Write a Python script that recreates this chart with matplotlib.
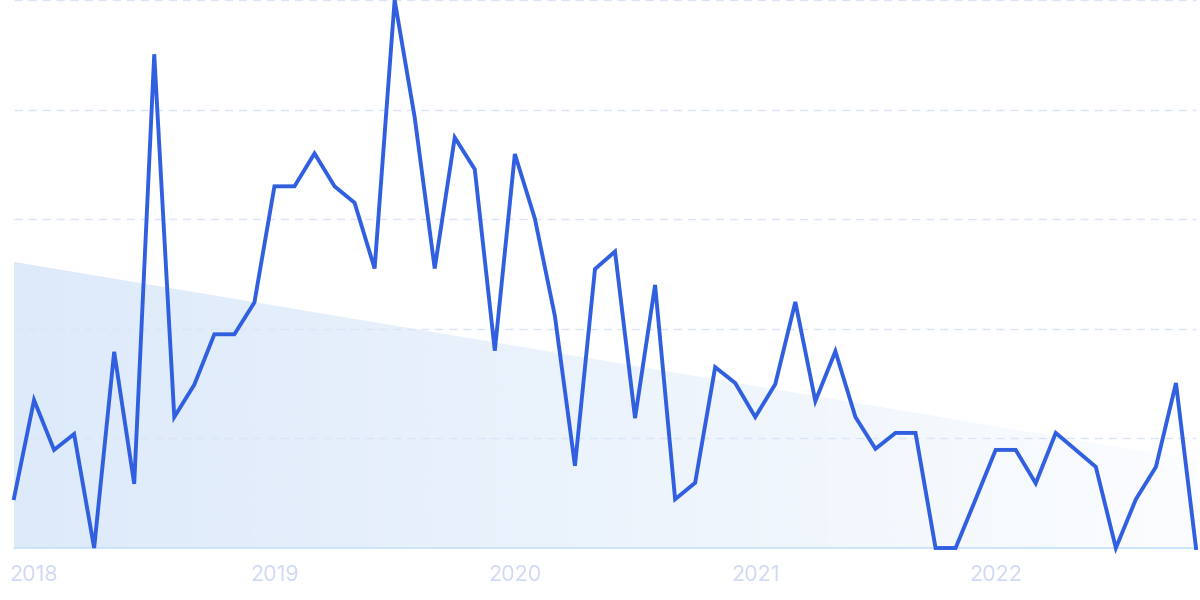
import numpy as np
import matplotlib
matplotlib.use("Agg")
import matplotlib.pyplot as plt
from matplotlib.patches import Polygon

# ---- data ----
values = [9.1, 27.0, 17.9, 20.8, 0.0, 35.8, 11.7, 90.1, 23.9, 29.8,
          39.0, 39.0, 44.8, 66.0, 66.0, 72.0, 66.0, 63.0, 51.0, 100.0,
          78.6, 51.0, 74.9, 69.1, 36.0, 71.9, 60.1, 42.3, 15.0, 50.9,
          54.1, 23.7, 48.0, 8.9, 11.9, 33.0, 30.1, 23.9, 29.9, 44.9,
          26.8, 35.9, 23.9, 18.1, 21.0, 21.0, 0.0, 0.0, 8.9, 17.9,
          17.9, 11.8, 21.0, 17.9, 14.8, 0.0, 8.9, 14.8, 30.1, 0.0]
trend_start = 52.2
trend_end = 16.1
tick_labels = ["2018", "2019", "2020", "2021", "2022"]
tick_index = [1, 13, 25, 37, 49]
grid_values = [20, 40, 60, 80, 100]

plt.rcParams['font.family'] = ['Inter', 'DejaVu Sans']

fig = plt.figure(figsize=(12, 6), dpi=100)
ax = fig.add_axes([14/1200, 52/600, 1182/1200, 548/600])
x = np.arange(len(values))
n = len(values) - 1
ax.set_xlim(0, n)
ax.set_ylim(0, 100)

# gradient trend area
poly = Polygon([(0, 0), (0, trend_start), (n, trend_end), (n, 0)],
               closed=True, facecolor='none', edgecolor='none')
ax.add_patch(poly)
W = 400
grad = np.zeros((2, W, 4))
t = np.linspace(0, 1, W)
base = np.array([219, 233, 250]) / 255
grad[:, :, 0] = base[0]
grad[:, :, 1] = base[1]
grad[:, :, 2] = base[2]
grad[:, :, 3] = 0.95 - 0.85 * t
im = ax.imshow(grad, extent=[0, n, 0, 100], aspect='auto', origin='lower',
               interpolation='bilinear', zorder=1)
im.set_clip_path(poly)

# grid lines
for g in grid_values:
    ax.axhline(g, color='#dbe5f7', lw=1.0, dashes=(5.8, 4.3), zorder=2,
               clip_on=False)
ax.axhline(0, color='#c4e2fb', lw=1.2, zorder=2, clip_on=False)

ax.plot(x, values, color='#3060e0', lw=2.8, zorder=5, clip_on=False,
        solid_joinstyle='miter')

for s in ax.spines.values():
    s.set_visible(False)
ax.set_yticks([])
ax.set_xticks(tick_index)
ax.set_xticklabels(tick_labels, color='#d0daf5', fontsize=15.5)
ax.tick_params(axis='x', length=0, pad=12)

fig.savefig("out.png", dpi=100, facecolor='white')
